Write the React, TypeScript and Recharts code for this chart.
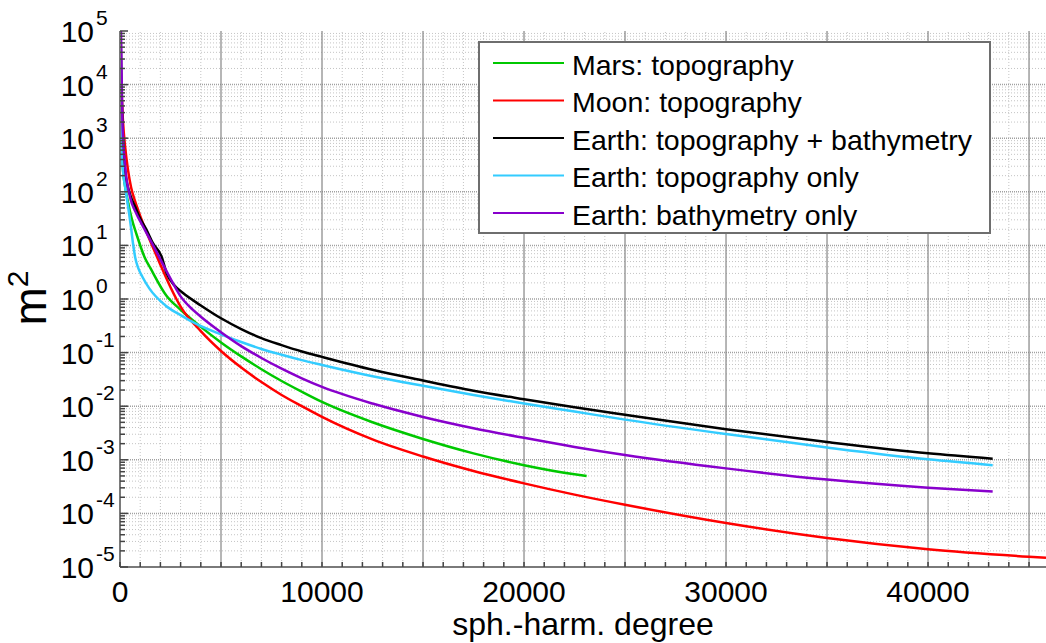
import React from 'react';
import { LineChart, Line, XAxis, YAxis, ReferenceLine } from 'recharts';

// ---- data (spherical-harmonic degree, power in m^2) ----
const marsDeg = [0, 30, 70, 150, 250, 400, 580, 825, 1240, 1500, 2300, 3000, 4000, 5000, 6000, 7000, 8000, 9000, 10000, 12500, 15000, 17500, 20000, 22500, 23100];
const marsVal = [1.0e4, 3.98e3, 1.0e3, 251, 126, 63.1, 31.6, 15.8, 5.75, 3.8, 1.15, 0.631, 0.302, 0.155, 0.0851, 0.049, 0.0295, 0.0186, 0.012, 5.01e-3, 2.45e-3, 1.32e-3, 7.94e-4, 5.37e-4, 5.01e-4];

const moonDeg = [0, 60, 150, 250, 400, 550, 750, 1000, 1300, 1600, 2000, 2500, 3000, 4000, 5000, 6000, 7000, 8000, 9000, 10000, 12500, 15000, 17500, 20000, 22500, 25000, 30000, 35000, 40000, 45000, 45840];
const moonVal = [2.51e4, 1.0e4, 2.0e3, 708, 251, 120, 66.1, 35.5, 18.2, 9.77, 4.37, 1.66, 0.724, 0.251, 0.107, 0.0525, 0.0282, 0.0162, 0.01, 6.31e-3, 2.4e-3, 1.15e-3, 6.17e-4, 3.63e-4, 2.24e-4, 1.45e-4, 6.61e-5, 3.47e-5, 2.14e-5, 1.55e-5, 1.48e-5];

const earthAllDeg = [0, 30, 70, 120, 250, 500, 750, 1000, 1300, 1630, 2060, 2310, 2700, 3120, 4000, 5000, 6000, 7000, 8000, 9000, 10000, 12500, 15000, 17500, 20000, 22500, 25000, 30000, 35000, 40000, 43200];
const earthAllVal = [3.98e5, 1.0e5, 1.0e4, 1.58e3, 251, 89.1, 52.5, 31.6, 20.0, 11.0, 6.17, 3.02, 1.78, 1.29, 0.759, 0.437, 0.275, 0.186, 0.138, 0.105, 0.0832, 0.0479, 0.0302, 0.0195, 0.0135, 9.55e-3, 6.92e-3, 3.72e-3, 2.14e-3, 1.32e-3, 1.05e-3];

const earthTopoDeg = [0, 20, 50, 100, 160, 250, 350, 450, 550, 650, 750, 900, 1100, 1450, 2250, 3000, 3700, 5000, 6000, 7000, 8000, 9000, 10000, 12500, 15000, 17500, 20000, 22500, 25000, 30000, 35000, 40000, 43200];
const earthTopoVal = [1.58e4, 3.98e3, 1.26e3, 447, 224, 126, 70.8, 39.8, 20.9, 10.5, 6.03, 3.8, 2.63, 1.58, 0.759, 0.501, 0.355, 0.219, 0.158, 0.117, 0.0912, 0.0724, 0.0589, 0.0363, 0.024, 0.0162, 0.0112, 7.94e-3, 5.62e-3, 3.02e-3, 1.7e-3, 1.02e-3, 7.94e-4];

const earthBathyDeg = [0, 20, 50, 80, 120, 250, 500, 800, 1100, 1500, 2000, 2500, 3000, 3600, 4000, 5000, 6000, 7000, 8000, 9000, 10000, 12500, 15000, 17500, 20000, 22500, 25000, 30000, 35000, 40000, 43200];
const earthBathyVal = [6.31e5, 2.0e5, 8.91e4, 1.58e4, 2.0e3, 316, 79.4, 39.8, 24.0, 12.6, 5.5, 2.4, 1.12, 0.631, 0.468, 0.24, 0.132, 0.0794, 0.0501, 0.0331, 0.0229, 0.0112, 6.31e-3, 3.89e-3, 2.57e-3, 1.74e-3, 1.23e-3, 6.92e-4, 4.27e-4, 3.02e-4, 2.57e-4];

const seriesNames = ['Mars: topography', 'Moon: topography', 'Earth: topography + bathymetry', 'Earth: topography only', 'Earth: bathymetry only'];
const seriesColors = ['#00c800', '#ff0000', '#000000', '#33ccff', '#8800cc'];
const seriesDeg = [marsDeg, moonDeg, earthAllDeg, earthTopoDeg, earthBathyDeg];
const seriesVal = [marsVal, moonVal, earthAllVal, earthTopoVal, earthBathyVal];

// ---- axes ----
const xDomain: [number, number] = [0, 45840];
const xLabelTicks = [0, 10000, 20000, 30000, 40000];
const xMinorTicks = Array.from({ length: 46 }, (_, i) => i * 1000);
const xMajorGrid = [5000, 10000, 15000, 20000, 25000, 30000, 35000, 40000, 45000];
const yExponents = [-5, -4, -3, -2, -1, 0, 1, 2, 3, 4, 5];
const yDecades = yExponents.map((e) => Math.pow(10, e));
const yMinor: number[] = [];
yExponents.slice(0, -1).forEach((e) => {
  for (let m = 2; m <= 9; m++) yMinor.push(m * Math.pow(10, e));
});
const yAllTicks = [...yDecades, ...yMinor].sort((a, b) => a - b);

const FONT = '"Liberation Sans", Arial, Helvetica, sans-serif';
const AXIS_GRAY = '#7a7a7a';

const isDecade = (v: number) => Math.abs(Math.log10(v) - Math.round(Math.log10(v))) < 1e-6;

const XTickBottom = (props: any) => {
  const { x, y, payload } = props;
  const v = payload.value;
  return (
    <g>
      <line x1={x} y1={y} x2={x} y2={y - 5} stroke="#444" strokeWidth={1.5} />
      {xLabelTicks.includes(v) && (
        <text x={x} y={y + 35} textAnchor="middle" fontSize={30} fill="#000" fontFamily={FONT}>
          {String(v)}
        </text>
      )}
    </g>
  );
};

const XTickTop = (props: any) => {
  const { x, y } = props;
  return <line x1={x} y1={y} x2={x} y2={y + 5} stroke="#444" strokeWidth={1.5} />;
};

const YTickLeft = (props: any) => {
  const { x, y, payload } = props;
  const v = payload.value;
  const dec = isDecade(v);
  const e = Math.round(Math.log10(v));
  return (
    <g>
      <line x1={x} y1={y} x2={x + (dec ? 8 : 5)} y2={y} stroke="#444" strokeWidth={1.5} />
      {dec && (
        <g fontFamily={FONT} fill="#000">
          <text x={x - 26} y={y + 11} textAnchor="end" fontSize={30}>10</text>
          <text x={x - 24} y={y - 6} textAnchor="start" fontSize={21}>{String(e)}</text>
        </g>
      )}
    </g>
  );
};

export default function App() {
  return (
    <div style={{ position: 'absolute', left: 0, top: 0, width: 1046, height: 643, background: '#fff', overflow: 'hidden' }}>
      <LineChart width={1046} height={643} margin={{ top: 31, right: 0, bottom: 0, left: 0 }}>
        <XAxis
          xAxisId="b"
          type="number"
          dataKey="d"
          domain={xDomain}
          allowDataOverflow
          ticks={xMinorTicks}
          interval={0}
          tick={<XTickBottom />}
          tickLine={false}
          tickSize={0}
          tickMargin={0}
          height={76}
          axisLine={{ stroke: AXIS_GRAY, strokeWidth: 2 }}
        />
        <XAxis
          xAxisId="t"
          orientation="top"
          type="number"
          dataKey="d"
          domain={xDomain}
          allowDataOverflow
          ticks={xMinorTicks}
          interval={0}
          tick={<XTickTop />}
          tickLine={false}
          tickSize={0}
          tickMargin={0}
          height={0}
          axisLine={{ stroke: AXIS_GRAY, strokeWidth: 2 }}
        />
        <YAxis
          yAxisId="l"
          type="number"
          scale="log"
          domain={[1e-5, 1e5]}
          allowDataOverflow
          ticks={yAllTicks}
          interval={0}
          tick={<YTickLeft />}
          tickLine={false}
          tickSize={0}
          tickMargin={0}
          width={120}
          axisLine={{ stroke: AXIS_GRAY, strokeWidth: 2 }}
        />
        {yMinor.map((v) => (
          <ReferenceLine key={'ym' + v} xAxisId="b" yAxisId="l" y={v} stroke="#c4c4c4" strokeDasharray="1 2" strokeWidth={1} />
        ))}
        {yDecades.slice(1, -1).map((v) => (
          <ReferenceLine key={'yd' + v} xAxisId="b" yAxisId="l" y={v} stroke="#a0a0a0" strokeDasharray="1 1" strokeWidth={1.5} />
        ))}
        {xMinorTicks.filter((v) => v > 0 && v % 5000 !== 0).map((v) => (
          <ReferenceLine key={'xm' + v} xAxisId="b" yAxisId="l" x={v} stroke="#c4c4c4" strokeDasharray="1 2" strokeWidth={1} />
        ))}
        {xMajorGrid.map((v) => (
          <ReferenceLine key={'xg' + v} xAxisId="b" yAxisId="l" x={v} stroke="#858585" strokeWidth={1.2} />
        ))}
        {seriesNames.map((name, i) => (
          <Line
            key={name}
            xAxisId="b"
            yAxisId="l"
            name={name}
            data={seriesDeg[i].map((d, j) => ({ d, v: seriesVal[i][j] }))}
            dataKey="v"
            type="monotone"
            stroke={seriesColors[i]}
            strokeWidth={2.5}
            dot={false}
            activeDot={false}
            isAnimationActive={false}
          />
        ))}
      </LineChart>
      <svg width={1046} height={643} style={{ position: 'absolute', left: 0, top: 0, pointerEvents: 'none' }}>
        <text x={583} y={635} textAnchor="middle" fontSize={32} fontFamily={FONT} fill="#000">sph.-harm. degree</text>
        <text transform="translate(46,298) rotate(-90)" textAnchor="middle" fontSize={46} fontFamily={FONT} fill="#000">
          m<tspan dy={-18} fontSize={30}>2</tspan>
        </text>
        <rect x={479} y={42} width={511} height={191} fill="#fff" stroke="#6e6e6e" strokeWidth={2} />
        {seriesNames.map((name, i) => (
          <g key={name}>
            <line x1={493} x2={564} y1={63 + 37.5 * i} y2={63 + 37.5 * i} stroke={seriesColors[i]} strokeWidth={2} />
            <text x={572} y={74.5 + 37.5 * i} fontSize={28.5} fontFamily={FONT} fill="#000">{name}</text>
          </g>
        ))}
      </svg>
    </div>
  );
}
